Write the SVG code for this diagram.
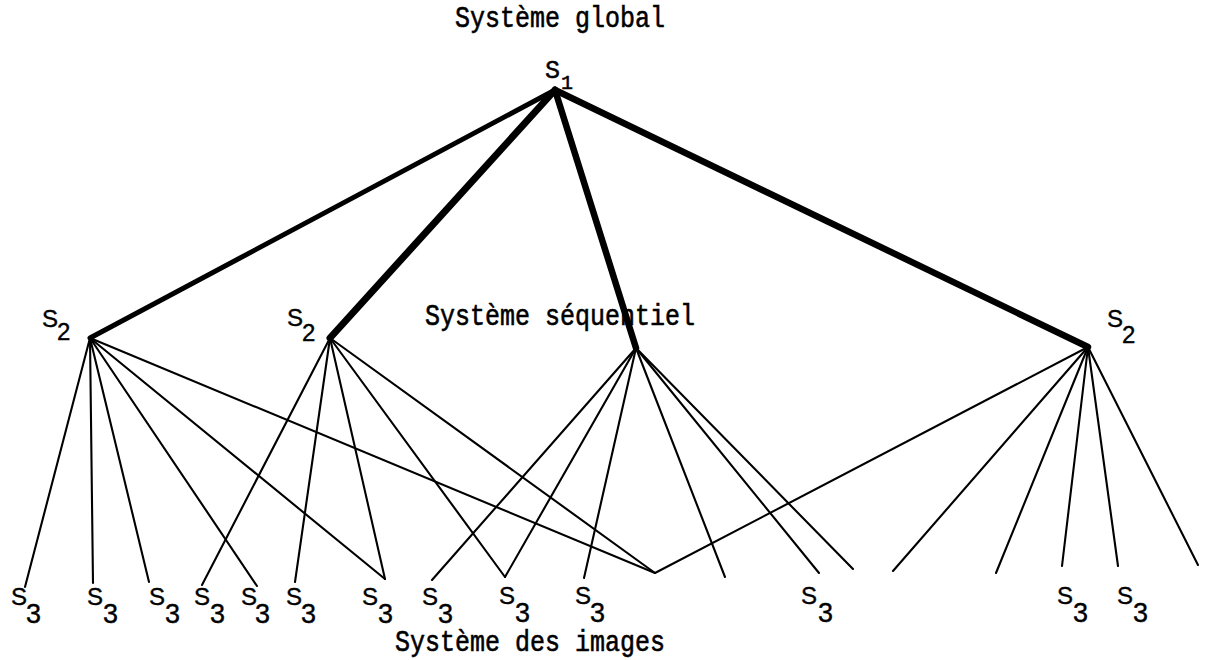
<svg xmlns="http://www.w3.org/2000/svg" width="1208" height="660" viewBox="0 0 1208 660">
<style>
.tw{font-family:"Liberation Mono","DejaVu Sans Mono",monospace;font-size:25px;fill:#000;stroke:#000;stroke-width:0.5}
.lb{font-family:"Liberation Sans",Arial,sans-serif;font-size:24px;fill:#000;stroke:#000;stroke-width:0.4}
.sub{font-family:"Liberation Sans",Arial,sans-serif;font-size:27px;fill:#000;stroke:#000;stroke-width:0.4}
.thick{stroke:#000;stroke-linecap:round;fill:none}
.thin{stroke:#000;stroke-width:2.1;stroke-linecap:round;fill:none}
</style>
<rect width="1208" height="660" fill="#fff"/>
<g id="titles">
<text class="tw" x="455" y="27" transform="translate(0,-4.5) scale(1,1.16)">Système global</text>
<text class="tw" x="425" y="325" transform="translate(0,-52) scale(1,1.16)">Système séquentiel</text>
<text class="tw" x="395" y="651" transform="translate(0,-104) scale(1,1.16)">Système des images</text>
</g>
<g id="connectors">
<line class="thick" stroke-width="5" x1="555" y1="90" x2="90" y2="338"/>
<line class="thick" stroke-width="7" x1="555" y1="90" x2="330" y2="338"/>
<line class="thick" stroke-width="6.5" x1="555" y1="90" x2="636" y2="348"/>
<line class="thick" stroke-width="6.5" x1="555" y1="90" x2="1088" y2="347"/>
<g>
<line class="thin" x1="90" y1="338" x2="25" y2="587"/>
<line class="thin" x1="90" y1="338" x2="93" y2="583"/>
<line class="thin" x1="90" y1="338" x2="149" y2="582"/>
<line class="thin" x1="90" y1="338" x2="257" y2="586"/>
<line class="thin" x1="90" y1="338" x2="385" y2="579"/>
<line class="thin" x1="90" y1="338" x2="655" y2="573"/>
</g>
<g>
<line class="thin" x1="330" y1="338" x2="202" y2="585"/>
<line class="thin" x1="330" y1="338" x2="295" y2="582"/>
<line class="thin" x1="330" y1="338" x2="385" y2="579"/>
<line class="thin" x1="330" y1="338" x2="505" y2="577"/>
<line class="thin" x1="330" y1="338" x2="655" y2="573"/>
</g>
<g>
<line class="thin" x1="636" y1="348" x2="432" y2="580"/>
<line class="thin" x1="636" y1="348" x2="505" y2="577"/>
<line class="thin" x1="636" y1="348" x2="584" y2="578"/>
<line class="thin" x1="636" y1="348" x2="725" y2="577"/>
<line class="thin" x1="636" y1="348" x2="819" y2="573"/>
<line class="thin" x1="636" y1="348" x2="853" y2="569"/>
</g>
<g>
<line class="thin" x1="1088" y1="347" x2="655" y2="573"/>
<line class="thin" x1="1088" y1="347" x2="893" y2="571"/>
<line class="thin" x1="1088" y1="347" x2="996" y2="573"/>
<line class="thin" x1="1088" y1="347" x2="1062" y2="566"/>
<line class="thin" x1="1088" y1="347" x2="1118" y2="566"/>
<line class="thin" x1="1088" y1="347" x2="1198" y2="565"/>
</g>
</g>
<g id="s1"><text class="tw" x="545" y="78">S</text><text class="tw" x="561" y="89" style="font-size:20px">1</text></g>
<g id="s2a"><text class="lb" x="42" y="327">S</text><text class="lb" x="57" y="340">2</text></g>
<g id="s2b"><text class="lb" x="287" y="326">S</text><text class="lb" x="302" y="341">2</text></g>
<g id="s2c"><circle cx="636" cy="348" r="1.5"/></g>
<g id="s2d"><text class="lb" x="1107" y="327">S</text><text class="lb" x="1122" y="343">2</text></g>
<g id="s3-1"><text class="lb" x="11" y="605">S</text><text class="sub" x="26" y="623">3</text></g>
<g id="s3-2"><text class="lb" x="87" y="605">S</text><text class="sub" x="103" y="623">3</text></g>
<g id="s3-3"><text class="lb" x="149" y="605">S</text><text class="sub" x="165" y="623">3</text></g>
<g id="s3-4"><text class="lb" x="194" y="605">S</text><text class="sub" x="210" y="623">3</text></g>
<g id="s3-5"><text class="lb" x="241" y="605">S</text><text class="sub" x="255" y="623">3</text></g>
<g id="s3-6"><text class="lb" x="286" y="605">S</text><text class="sub" x="301" y="623">3</text></g>
<g id="s3-7"><text class="lb" x="362" y="605">S</text><text class="sub" x="378" y="623">3</text></g>
<g id="s3-8"><text class="lb" x="422" y="605">S</text><text class="sub" x="438" y="623">3</text></g>
<g id="s3-9"><text class="lb" x="499" y="604">S</text><text class="sub" x="515" y="622">3</text></g>
<g id="s3-10"><text class="lb" x="575" y="604">S</text><text class="sub" x="590" y="622">3</text></g>
<g id="s3-11"><text class="lb" x="801" y="604">S</text><text class="sub" x="818" y="622">3</text></g>
<g id="s3-12"><text class="lb" x="1057" y="604">S</text><text class="sub" x="1073" y="622">3</text></g>
<g id="s3-13"><text class="lb" x="1117" y="604">S</text><text class="sub" x="1133" y="622">3</text></g>
</svg>
